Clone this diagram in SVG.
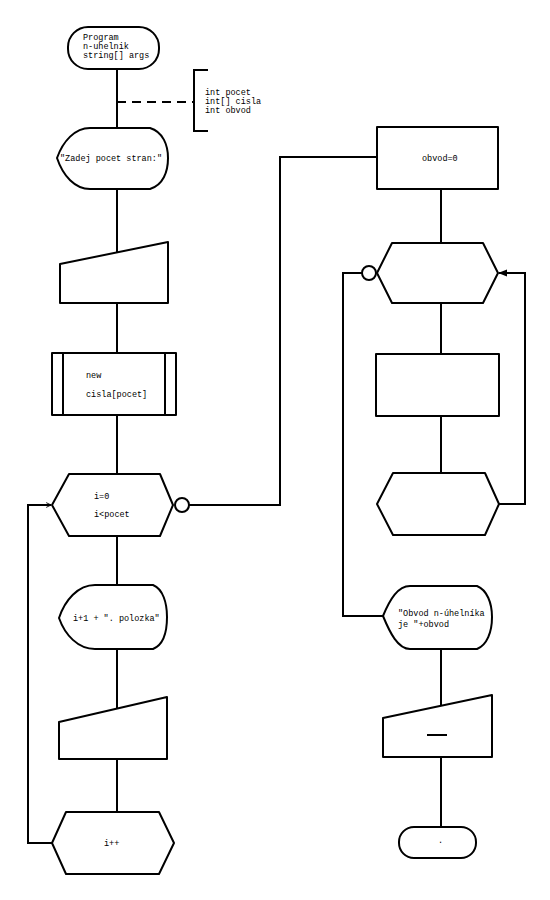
<svg xmlns="http://www.w3.org/2000/svg" width="550" height="900" viewBox="0 0 550 900">
<style>
.s{fill:#fff;stroke:#000;stroke-width:2;stroke-linejoin:round}
.c{fill:none;stroke:#000;stroke-width:2}
.t{font-family:"Liberation Mono","DejaVu Sans Mono",monospace;font-size:8.5px;fill:#000}
</style>
<defs>
<marker id="open" viewBox="0 0 10 10" refX="9" refY="5" markerWidth="6" markerHeight="6" orient="auto" markerUnits="userSpaceOnUse">
<path d="M1,1 L9,5 L1,9" fill="none" stroke="#000" stroke-width="1.5"/>
</marker>
<marker id="fill" viewBox="0 0 10 10" refX="9" refY="5" markerWidth="9" markerHeight="9" orient="auto" markerUnits="userSpaceOnUse">
<path d="M0,1 L10,5 L0,9 Z" fill="#000"/>
</marker>
</defs>
<rect width="550" height="900" fill="#fff"/>
<g id="connectors">
<line class="c" x1="117" y1="69" x2="117" y2="128"/>
<line class="c" x1="117" y1="102" x2="194" y2="102" stroke-dasharray="9,6"/>
<line class="c" x1="117" y1="189" x2="117" y2="253"/>
<line class="c" x1="117" y1="303" x2="117" y2="353"/>
<line class="c" x1="117" y1="415" x2="117" y2="474"/>
<line class="c" x1="117" y1="536" x2="117" y2="585"/>
<line class="c" x1="117" y1="649" x2="117" y2="709"/>
<line class="c" x1="117" y1="759" x2="117" y2="812"/>
<path class="c" d="M52,843 L28,843 L28,505 L51,505" marker-end="url(#open)"/>
<path class="c" d="M189,505 L280,505 L280,157 L377,157"/>
<line class="c" x1="441" y1="189" x2="441" y2="243"/>
<line class="c" x1="441" y1="303" x2="441" y2="354"/>
<line class="c" x1="441" y1="416" x2="441" y2="473"/>
<path class="c" d="M362,273 L343,273 L343,616 L383,616"/>
<path class="c" d="M499,504 L525,504 L525,273 L499,273" marker-end="url(#fill)"/>
<line class="c" x1="441" y1="649" x2="441" y2="706"/>
<line class="c" x1="441" y1="757" x2="441" y2="827"/>
</g>
<g id="n-start">
<rect class="s" x="68" y="27" width="91" height="42" rx="20"/>
<text class="t" x="83" y="40">Program</text>
<text class="t" x="83" y="49">n-uhelnik</text>
<text class="t" x="83" y="58">string[] args</text>
</g>
<g id="n-vars">
<path class="c" d="M208,70 L194,70 L194,131 L208,131"/>
<text class="t" x="205" y="95">int pocet</text>
<text class="t" x="205" y="104">int[] cisla</text>
<text class="t" x="205" y="113">int obvod</text>
</g>
<g id="n-prompt">
<path class="s" d="M57,158 C63,141 75,128 90,128 L150,128 C163,132 168,145 168,158 C168,172 163,185 150,189 L90,189 C75,189 63,176 57,158 Z"/>
<text class="t" x="60" y="161">"Zadej pocet stran:"</text>
</g>
<g id="n-input1">
<path class="s" d="M60,264 L168,242 L168,303 L60,303 Z"/>
</g>
<g id="n-new">
<rect class="s" x="52" y="353" width="124" height="62"/>
<line class="c" x1="63" y1="353" x2="63" y2="415"/>
<line class="c" x1="165" y1="353" x2="165" y2="415"/>
<text class="t" x="86" y="378">new</text>
<text class="t" x="86" y="397">cisla[pocet]</text>
</g>
<g id="n-loop1">
<path class="s" d="M69,474 L160,474 L173,505 L160,536 L69,536 L52,505 Z"/>
<text class="t" x="94" y="499">i=0</text>
<text class="t" x="94" y="517">i&lt;pocet</text>
<circle class="s" cx="182" cy="505" r="7"/>
</g>
<g id="n-prompt2">
<path class="s" d="M59,618 C65,600 78,585 95,585 L153,585 C163,589 167,603 167,617 C167,632 163,645 153,649 L95,649 C78,649 65,635 59,618 Z"/>
<text class="t" x="73" y="621">i+1 + ". polozka"</text>
</g>
<g id="n-input2">
<path class="s" d="M59,722 L167,697 L167,759 L59,759 Z"/>
</g>
<g id="n-inc">
<path class="s" d="M66,812 L159,812 L174,843 L159,874 L66,874 L52,843 Z"/>
<text class="t" x="104" y="846">i++</text>
</g>
<g id="n-obvod0">
<rect class="s" x="377" y="127" width="121" height="62"/>
<text class="t" x="422" y="161">obvod=0</text>
</g>
<g id="n-loop2">
<path class="s" d="M392,243 L483,243 L498,273 L483,303 L392,303 L377,273 Z"/>
<circle class="s" cx="369" cy="273" r="7"/>
</g>
<g id="n-process">
<rect class="s" x="376" y="354" width="123" height="62"/>
</g>
<g id="n-loop2end">
<path class="s" d="M393,473 L485,473 L499,504 L485,535 L393,535 L377,504 Z"/>
</g>
<g id="n-result">
<path class="s" d="M383,616 C390,599 398,586 410,586 L477,586 C487,590 492,603 492,617 C492,632 487,645 477,649 L410,649 C398,649 390,633 383,616 Z"/>
<text class="t" x="398" y="616">"Obvod n-úhelníka</text>
<text class="t" x="398" y="627">je "+obvod</text>
</g>
<g id="n-input3">
<path class="s" d="M383,718 L492,695 L492,757 L383,757 Z"/>
<line class="c" x1="427" y1="735" x2="447" y2="735" stroke-width="1.2"/>
</g>
<g id="n-end">
<rect class="s" x="399" y="827" width="77" height="31" rx="15"/>
<text class="t" x="438" y="843">.</text>
</g>
</svg>
